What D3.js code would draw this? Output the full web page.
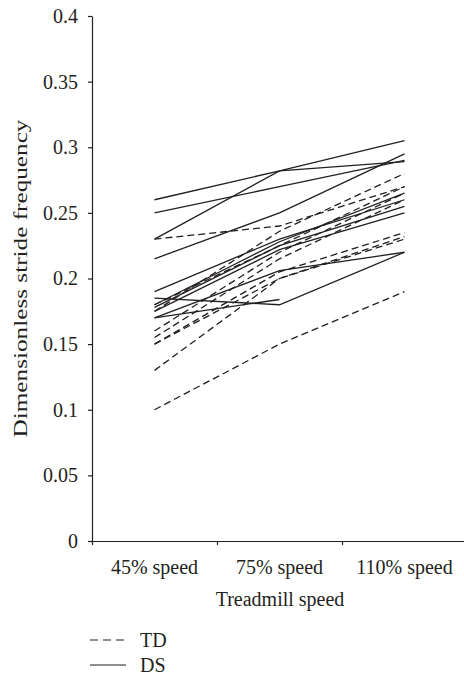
<!DOCTYPE html>
<html>
<head>
<meta charset="utf-8">
<script src="https://cdn.jsdelivr.net/npm/d3@7"></script>
<style>
  body { margin: 0; background: #fff; }
  text { font-family: "Liberation Serif", "DejaVu Serif", serif; fill: #231f20; }
</style>
</head>
<body>
<div class="container"></div>
<script>
const speeds = ["45% speed", "75% speed", "110% speed"];

// TD children (dashed), one row per child: 45%, 75%, 110%
const tdValues = [
  [0.23, 0.24, 0.27],
  [0.175, 0.236, 0.28],
  [0.18, 0.225, 0.27],
  [0.16, 0.22, 0.265],
  [0.155, 0.215, 0.26],
  [0.15, 0.205, 0.235],
  [0.15, 0.2, 0.23],
  [0.13, 0.2, 0.232],
  [0.1, 0.15, 0.19]
];

// DS children (solid)
const dsValues = [
  [0.26, 0.282, 0.305],
  [0.23, 0.282, 0.289],
  [0.25, 0.27, 0.29],
  [0.215, 0.25, 0.295],
  [0.19, 0.23, 0.26],
  [0.18, 0.228, 0.265],
  [0.178, 0.225, 0.255],
  [0.175, 0.222, 0.25],
  [0.185, 0.18, 0.22],
  [0.17, 0.206, 0.22],
  [0.17, 0.184, null]
];

const yTickValues = [0, 0.05, 0.1, 0.15, 0.2, 0.25, 0.3, 0.35, 0.4];
const yTickLabels = ["0", "0.05", "0.1", "0.15", "0.2", "0.25", "0.3", "0.35", "0.4"];

const width = 464, height = 676;
const plotLeft = 92, plotRight = 467, plotTop = 16, plotBottom = 541;
const fontSize = "20px";

const svg = d3.select(".container").append("svg")
  .attr("width", width).attr("height", height);

const x = d3.scaleBand().domain(speeds).range([plotLeft, plotRight]);
const xEdge = d3.scaleLinear().domain([0, speeds.length]).range([plotLeft, plotRight]);
const y = d3.scaleLinear().domain([0, 0.4]).range([plotBottom, plotTop]);

// y axis
const yAxis = svg.append("g")
  .attr("transform", `translate(${plotLeft},0)`)
  .call(d3.axisLeft(y).tickValues(yTickValues)
    .tickFormat((d, i) => yTickLabels[i])
    .tickSize(4).tickSizeOuter(0).tickPadding(10));
yAxis.selectAll("text").style("font-size", fontSize)
  .style("font-family", '"Liberation Serif", serif').attr("fill", "#231f20");
yAxis.selectAll("line,path").attr("stroke", "#231f20").attr("stroke-width", 1.2);

// x axis: ticks at band edges, labels at band centers
const xAxis = svg.append("g")
  .attr("transform", `translate(0,${plotBottom})`)
  .call(d3.axisBottom(xEdge).tickValues(d3.range(speeds.length + 1))
    .tickFormat("").tickSize(4).tickSizeOuter(0));
xAxis.selectAll("line,path").attr("stroke", "#231f20").attr("stroke-width", 1.2);

svg.selectAll(".xlab")
  .data(speeds)
  .join("text")
  .attr("class", "xlab")
  .attr("x", d => x(d) + x.bandwidth() / 2)
  .attr("y", 574)
  .attr("text-anchor", "middle")
  .style("font-size", fontSize)
  .text(d => d);

svg.append("text")
  .attr("x", 280).attr("y", 606)
  .attr("text-anchor", "middle")
  .style("font-size", fontSize)
  .text("Treadmill speed");

svg.append("text")
  .attr("transform", `translate(27,${(plotTop + plotBottom) / 2}) rotate(-90)`)
  .attr("text-anchor", "middle")
  .attr("textLength", 318)
  .attr("lengthAdjust", "spacingAndGlyphs")
  .style("font-size", "19px")
  .text("Dimensionless stride frequency");

const line = d3.line()
  .defined(d => d.v != null)
  .x(d => x(d.s) + x.bandwidth() / 2)
  .y(d => y(d.v));

const toPoints = row => row.map((v, i) => ({ s: speeds[i], v: v }));

svg.append("g").selectAll("path")
  .data(tdValues)
  .join("path")
  .attr("d", d => line(toPoints(d)))
  .attr("fill", "none")
  .attr("stroke", "#231f20")
  .attr("stroke-width", 1.3)
  .attr("stroke-dasharray", "7,4");

svg.append("g").selectAll("path")
  .data(dsValues)
  .join("path")
  .attr("d", d => line(toPoints(d)))
  .attr("fill", "none")
  .attr("stroke", "#231f20")
  .attr("stroke-width", 1.3);

// legend
const legend = [
  { name: "TD", dash: "8,5", y: 640 },
  { name: "DS", dash: null, y: 665 }
];
svg.selectAll(".leg-line")
  .data(legend)
  .join("line")
  .attr("class", "leg-line")
  .attr("x1", 90).attr("x2", 126)
  .attr("y1", d => d.y).attr("y2", d => d.y)
  .attr("stroke", "#231f20").attr("stroke-width", 1.2)
  .attr("stroke-dasharray", d => d.dash);
svg.selectAll(".leg-text")
  .data(legend)
  .join("text")
  .attr("class", "leg-text")
  .attr("x", 140).attr("y", d => d.y + 7)
  .style("font-size", fontSize)
  .text(d => d.name);
</script>
</body>
</html>
